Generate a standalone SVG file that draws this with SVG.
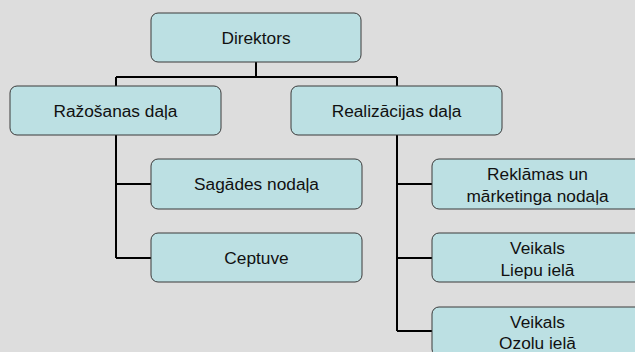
<svg xmlns="http://www.w3.org/2000/svg" width="635" height="352" viewBox="0 0 635 352">
<style>
.box{fill:#bce0e3;stroke:#3a3a3a;stroke-width:1}
.t{font-family:"Liberation Sans",Arial,sans-serif;font-size:17.3px;fill:#111;text-anchor:middle}
.c{stroke:#000;stroke-width:2;fill:none}
</style>
<rect width="635" height="352" fill="#dddddd"/>
<g id="connectors">
<path class="c" d="M256 62V77M116 77H397M116 77V86M397 77V86"/>
<path class="c" d="M116 135V258M116 184H151M116 258H151"/>
<path class="c" d="M397 135V331M397 184H432M397 258H432M397 331H432"/>
</g>
<g id="direktors"><rect class="box" x="151" y="13" width="210" height="49" rx="7"/><text class="t" x="256" y="44">Direktors</text></g>
<g id="razosanas"><rect class="box" x="10" y="86" width="211" height="49" rx="7"/><text class="t" x="115.5" y="117">Ražošanas daļa</text></g>
<g id="realizacijas"><rect class="box" x="291" y="86" width="211" height="49" rx="7"/><text class="t" x="396.5" y="117">Realizācijas daļa</text></g>
<g id="sagades"><rect class="box" x="151" y="159" width="211" height="50" rx="7"/><text class="t" x="256.5" y="190">Sagādes nodaļa</text></g>
<g id="ceptuve"><rect class="box" x="151" y="233" width="211" height="49" rx="7"/><text class="t" x="256.5" y="264">Ceptuve</text></g>
<g id="reklamas"><rect class="box" x="432" y="159" width="211" height="50" rx="7"/><text class="t" x="537.5" y="180">Reklāmas un</text><text class="t" x="537.5" y="202">mārketinga nodaļa</text></g>
<g id="liepu"><rect class="box" x="432" y="233" width="211" height="49" rx="7"/><text class="t" x="537.5" y="254">Veikals</text><text class="t" x="537.5" y="276">Liepu ielā</text></g>
<g id="ozolu"><rect class="box" x="432" y="307" width="211" height="49" rx="7"/><text class="t" x="537.5" y="328">Veikals</text><text class="t" x="537.5" y="349">Ozolu ielā</text></g>
</svg>
